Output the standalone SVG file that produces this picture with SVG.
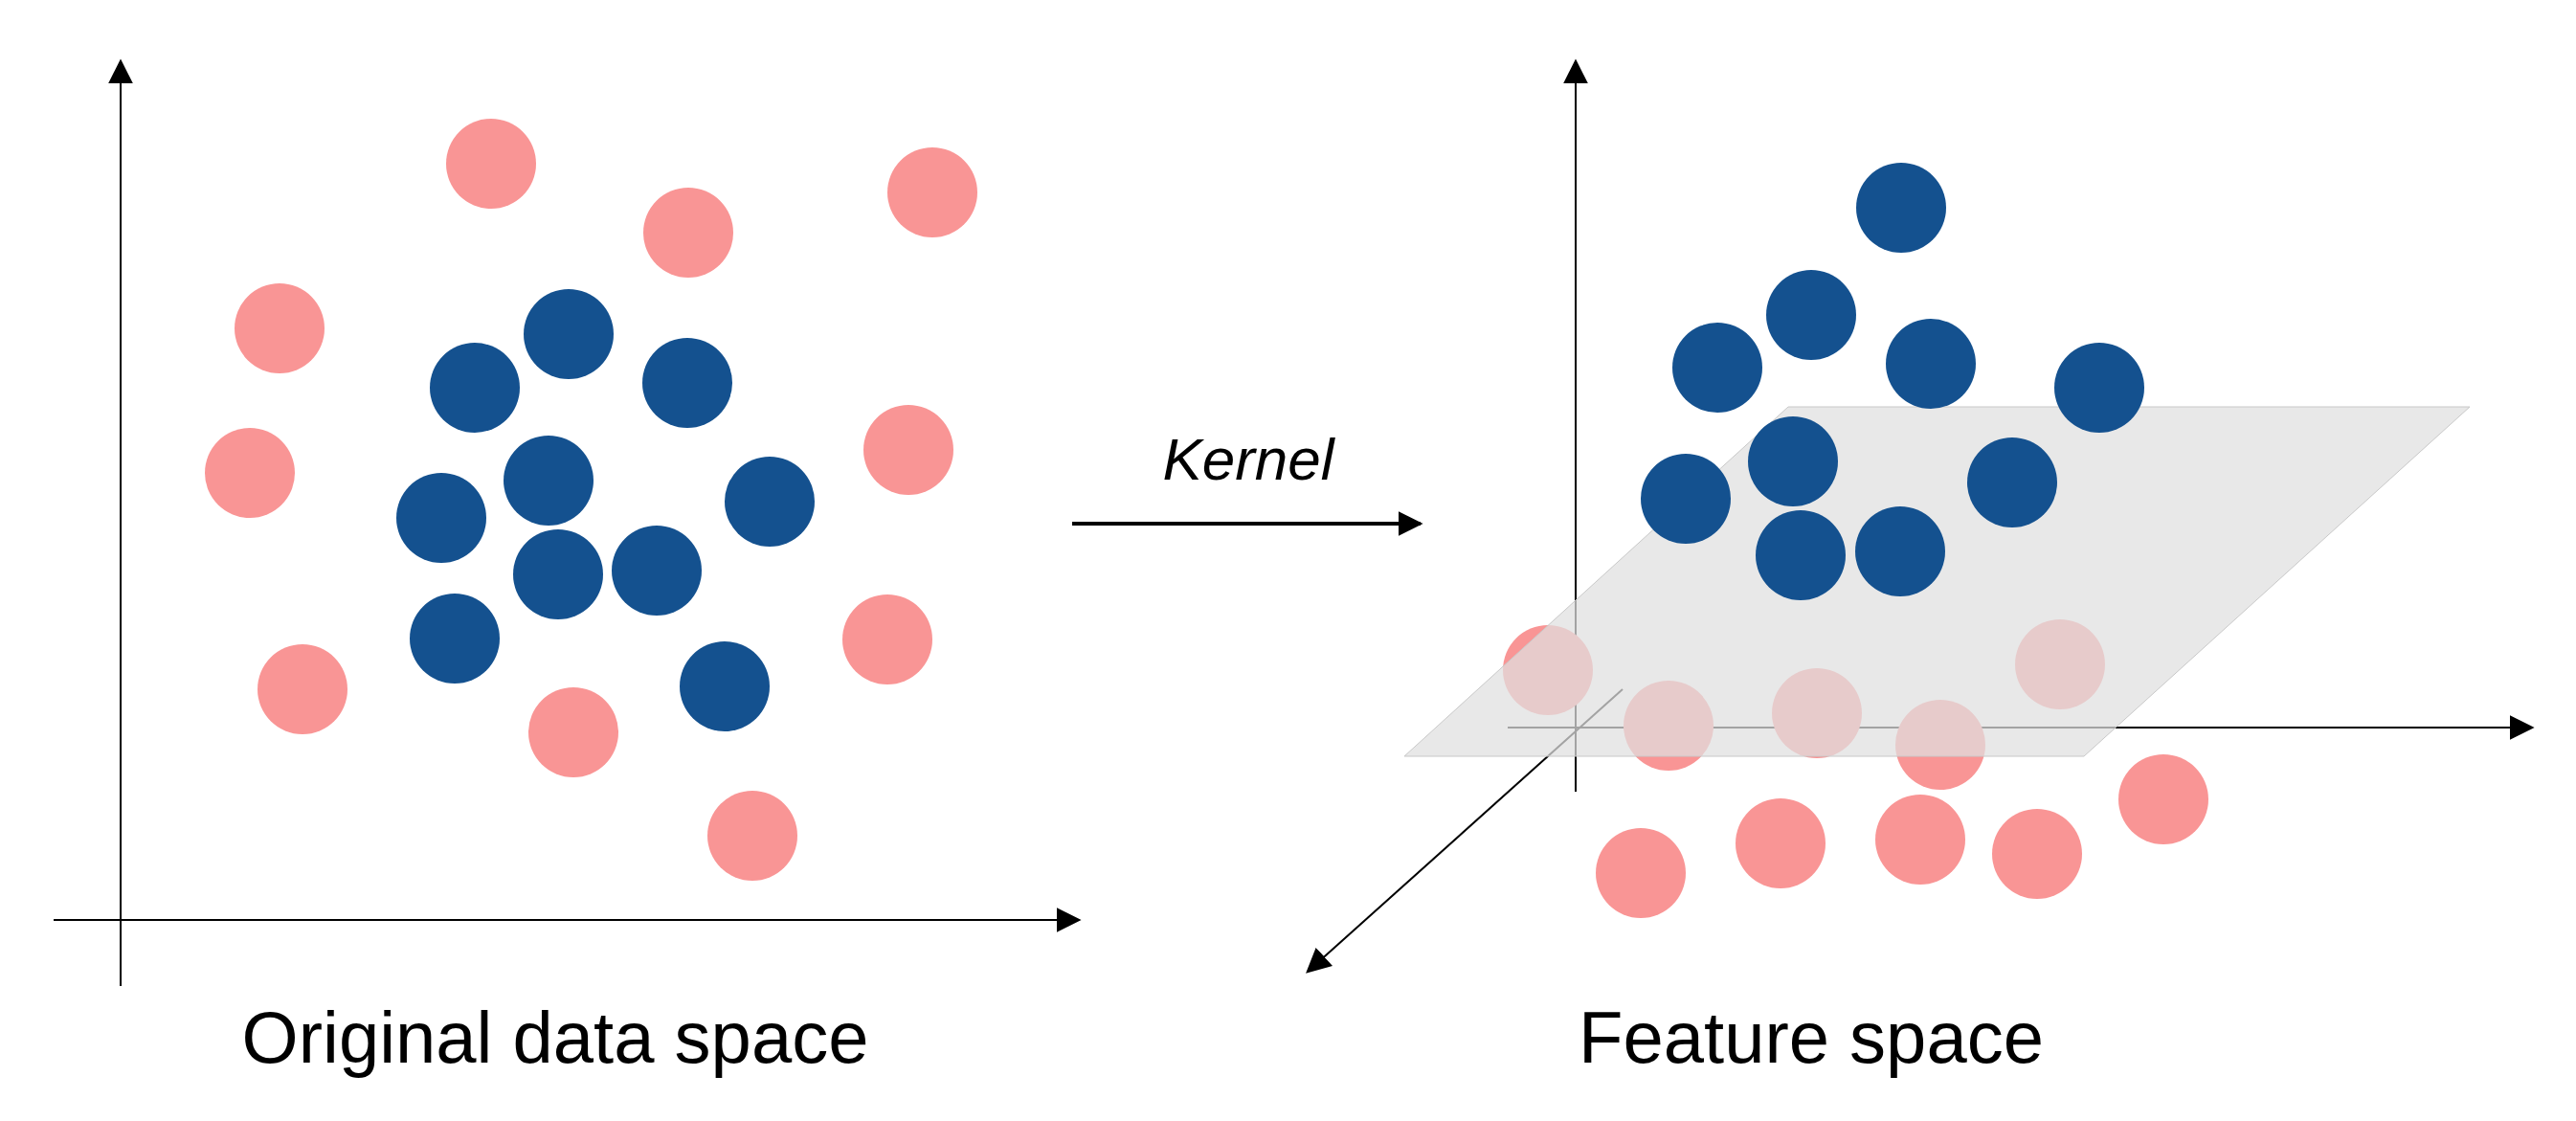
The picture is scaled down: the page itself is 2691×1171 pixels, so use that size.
<svg xmlns="http://www.w3.org/2000/svg" width="2691" height="1171" viewBox="0 0 2691 1171">
<style>
.p{fill:#f99595}.b{fill:#14518f}.ax{stroke:#000;stroke-width:2;fill:none}
.t{font-family:"Liberation Sans",Arial,sans-serif;fill:#000}
</style>
<defs>
<marker id="ah" viewBox="0 0 10 10" refX="9" refY="5" markerWidth="12" markerHeight="12" markerUnits="userSpaceOnUse" orient="auto"><path d="M0,0L10,5L0,10z" fill="#000"/></marker>
<marker id="ah2" viewBox="0 0 10 10" refX="9" refY="5" markerWidth="26" markerHeight="26" markerUnits="userSpaceOnUse" orient="auto"><path d="M0,0L10,5L0,10z" fill="#000"/></marker>
</defs>
<rect width="2691" height="1171" fill="#fff"/>
<g id="connectors">
<line class="ax" x1="126" y1="1030" x2="126" y2="64" marker-end="url(#ah2)"/>
<line class="ax" x1="56" y1="961" x2="1127" y2="961" marker-end="url(#ah2)"/>
<line x1="1120" y1="547" x2="1484" y2="547" stroke="#000" stroke-width="4" marker-end="url(#ah2)"/>
<line class="ax" x1="1646" y1="827" x2="1646" y2="64" marker-end="url(#ah2)"/>
<line class="ax" x1="1575" y1="760" x2="2645" y2="760" marker-end="url(#ah2)"/>
<line class="ax" x1="1695" y1="720" x2="1366" y2="1015" marker-end="url(#ah2)"/>
</g>
<g id="left-pink">
<circle class="p" cx="513" cy="171" r="47"/><circle class="p" cx="719" cy="243" r="47"/><circle class="p" cx="974" cy="201" r="47"/><circle class="p" cx="292" cy="343" r="47"/><circle class="p" cx="261" cy="494" r="47"/><circle class="p" cx="949" cy="470" r="47"/><circle class="p" cx="927" cy="668" r="47"/><circle class="p" cx="316" cy="720" r="47"/><circle class="p" cx="599" cy="765" r="47"/><circle class="p" cx="786" cy="873" r="47"/>
</g>
<g id="left-blue">
<circle class="b" cx="594" cy="349" r="47"/><circle class="b" cx="496" cy="405" r="47"/><circle class="b" cx="718" cy="400" r="47"/><circle class="b" cx="573" cy="502" r="47"/><circle class="b" cx="461" cy="541" r="47"/><circle class="b" cx="804" cy="524" r="47"/><circle class="b" cx="583" cy="600" r="47"/><circle class="b" cx="686" cy="596" r="47"/><circle class="b" cx="475" cy="667" r="47"/><circle class="b" cx="757" cy="717" r="47"/>
</g>
<g id="right-pink">
<circle class="p" cx="1617" cy="700" r="47"/><circle class="p" cx="1743" cy="758" r="47"/><circle class="p" cx="1898" cy="745" r="47"/><circle class="p" cx="2027" cy="778" r="47"/><circle class="p" cx="2152" cy="694" r="47"/><circle class="p" cx="1714" cy="912" r="47"/><circle class="p" cx="1860" cy="881" r="47"/><circle class="p" cx="2006" cy="877" r="47"/><circle class="p" cx="2128" cy="892" r="47"/><circle class="p" cx="2260" cy="835" r="47"/>
</g>
<g id="plane">
<polygon points="1868,425 2580,425 2177,790 1467,790" fill="#dfdfdf" fill-opacity="0.73" stroke="#c8c8c8" stroke-width="1"/>
</g>
<g id="right-blue">
<circle class="b" cx="1986" cy="217" r="47"/><circle class="b" cx="1892" cy="329" r="47"/><circle class="b" cx="1794" cy="384" r="47"/><circle class="b" cx="2017" cy="380" r="47"/><circle class="b" cx="2193" cy="405" r="47"/><circle class="b" cx="1873" cy="482" r="47"/><circle class="b" cx="1761" cy="521" r="47"/><circle class="b" cx="2102" cy="504" r="47"/><circle class="b" cx="1881" cy="580" r="47"/><circle class="b" cx="1985" cy="576" r="47"/>
</g>
<g id="labels">
<text class="t" x="1304" y="501" font-size="62" font-style="italic" text-anchor="middle">Kernel</text>
<text class="t" x="580" y="1110" font-size="76" text-anchor="middle">Original data space</text>
<text class="t" x="1892" y="1110" font-size="76" text-anchor="middle">Feature space</text>
</g>
</svg>
